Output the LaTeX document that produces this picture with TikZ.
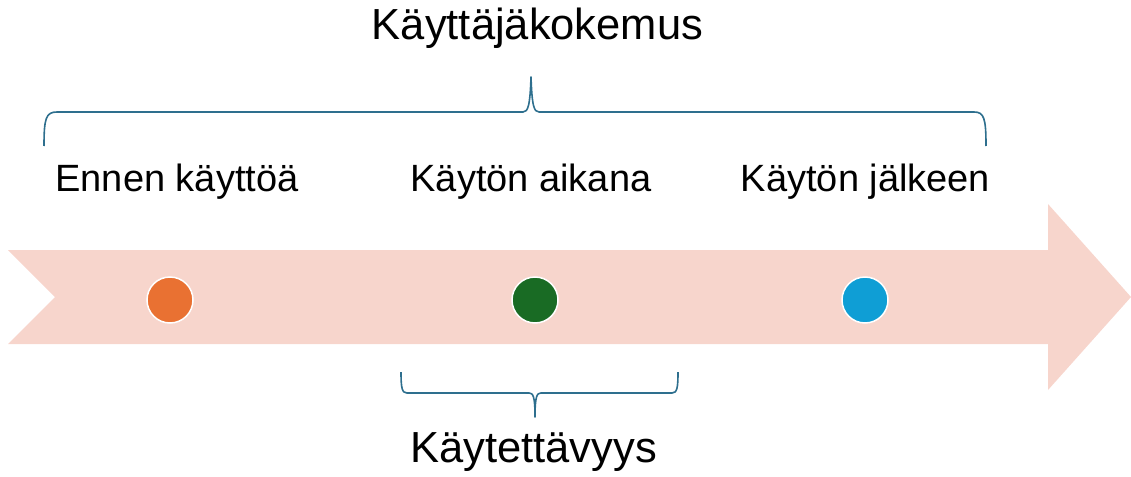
\documentclass[tikz,border=0pt]{standalone}
\usepackage{fontspec}
\setmainfont{Liberation Sans}
\definecolor{ribbon}{HTML}{F7D5CC}
\definecolor{bracecol}{HTML}{2E6F8E}
\definecolor{dotorange}{HTML}{E97132}
\definecolor{dotgreen}{HTML}{196B24}
\definecolor{dotblue}{HTML}{0F9ED5}
\tikzset{
  bigtext/.style={font=\fontsize{43.5}{50}\selectfont, inner sep=0pt, anchor=base},
  phasetext/.style={font=\fontsize{38}{44}\selectfont, inner sep=0pt, anchor=base},
  dot/.style={circle, minimum size=46pt, inner sep=0pt, draw=white, line width=1.5pt},
  bracket/.style={draw=bracecol, line width=1.6pt, line join=round},
}
\begin{document}
\begin{tikzpicture}[x=1pt, y=-1pt]
\useasboundingbox (0,0) rectangle (1131,476);

% timeline ribbon with notched tail and arrow head
\fill[ribbon] (8,250) -- (1048,250) -- (1048,204) -- (1131,297)
  -- (1048,390) -- (1048,344) -- (8,344) -- (55,297) -- cycle;

% phase markers
\node[dot, fill=dotorange] (before) at (170,300) {};
\node[dot, fill=dotgreen]  (during) at (535,300) {};
\node[dot, fill=dotblue]   (after)  at (865,300) {};

% phase labels
\node[phasetext] (lbefore) at (177,191) {Ennen käyttöä};
\node[phasetext] (lduring) at (531,191) {Käytön aikana};
\node[phasetext] (lafter)  at (865.5,191) {Käytön jälkeen};

% overall experience brace
\coordinate (ux0) at (44,146);
\coordinate (utip) at (531,77);
\coordinate (ux1) at (986,146);
\draw[bracket] (ux0) .. controls (44,118) and (46,112) .. (57,112)
  -- (523,112) .. controls (528,112) and (530,106) .. (utip)
  .. controls (532,106) and (534,112) .. (539,112)
  -- (974,112) .. controls (984,112) and (986,118) .. (ux1);
\node[bigtext] (ux) at (537.5,40) {Käyttäjäkokemus};

% usability brace
\coordinate (us0) at (401,372);
\coordinate (ustip) at (535,417);
\coordinate (us1) at (678,372);
\draw[bracket] (us0) .. controls (401,388) and (402,393) .. (407,393)
  -- (529,393) .. controls (533,393) and (535,396) .. (ustip)
  .. controls (535,396) and (537,393) .. (541,393)
  -- (672,393) .. controls (677,393) and (678,388) .. (us1);
\node[bigtext] (us) at (533.5,462) {Käytettävyys};
\end{tikzpicture}
\end{document}
